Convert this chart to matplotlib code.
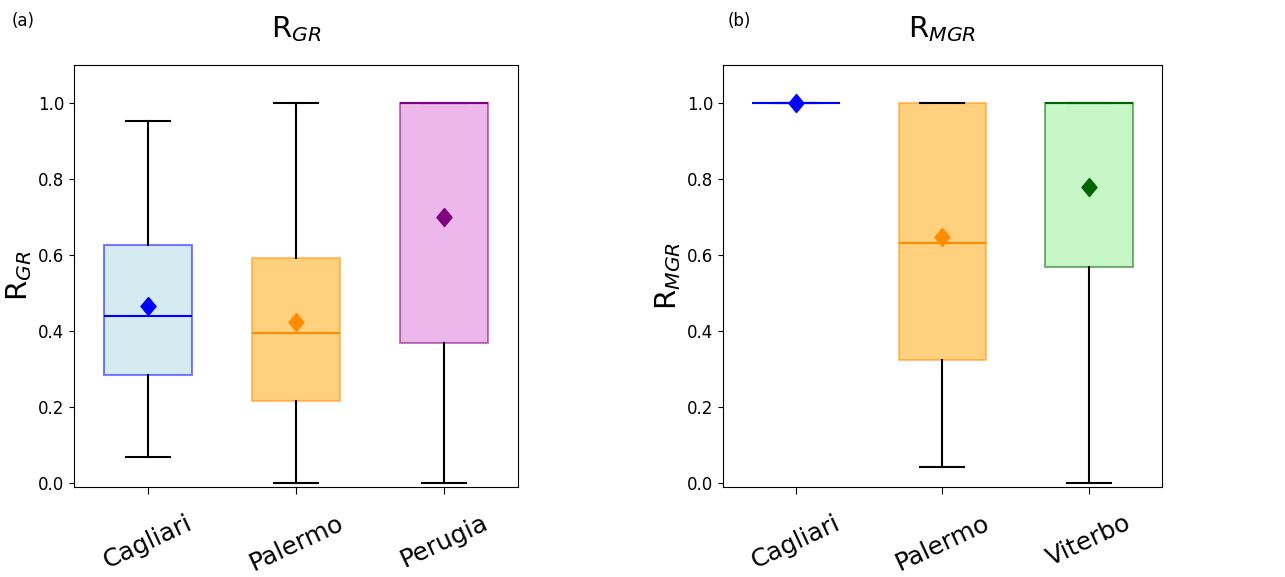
import matplotlib
matplotlib.use('Agg')
import matplotlib.pyplot as plt

# panel (a): R_GR
cities_a = ['Cagliari', 'Palermo', 'Perugia']
low_a = [0.07, 0.0, 0.0]
q1_a = [0.285, 0.215, 0.368]
med_a = [0.439, 0.396, 1.0]
q3_a = [0.626, 0.593, 1.0]
high_a = [0.953, 1.0, 1.0]
mean_a = [0.466, 0.425, 0.70]

# panel (b): R_MGR
cities_b = ['Cagliari', 'Palermo', 'Viterbo']
low_b = [1.0, 0.043, 0.0]
q1_b = [1.0, 0.324, 0.568]
med_b = [1.0, 0.633, 1.0]
q3_b = [1.0, 1.0, 1.0]
high_b = [1.0, 1.0, 1.0]
mean_b = [1.0, 0.647, 0.78]

face_a = ['lightblue', 'orange', 'orchid']
line_a = ['blue', 'darkorange', 'purple']
face_b = ['lightblue', 'orange', 'lightgreen']
line_b = ['blue', 'darkorange', 'darkgreen']

# slightly tall diamond, like in the source figure
diamond = [(0, 1.2), (1, 0), (0, -1.2), (-1, 0), (0, 1.2)]


def make_stats(labels, low, q1, med, q3, high, mean):
    out = []
    for i in range(len(labels)):
        out.append(dict(label=labels[i], whislo=low[i], q1=q1[i], med=med[i],
                        q3=q3[i], whishi=high[i], mean=mean[i], fliers=[]))
    return out


def draw_panel(ax, stats, faces, lines):
    bp = ax.bxp(stats, patch_artist=True, showmeans=True, widths=0.6,
                whiskerprops=dict(color='black', linewidth=1.5),
                capprops=dict(color='black', linewidth=1.5),
                medianprops=dict(linewidth=1.5))
    for i in range(len(stats)):
        box = bp['boxes'][i]
        box.set_facecolor(faces[i])
        box.set_edgecolor(lines[i])
        box.set_linewidth(1.5)
        box.set_alpha(0.5)
        bp['medians'][i].set_color(lines[i])
        m = bp['means'][i]
        m.set_marker(diamond)
        m.set_markerfacecolor(lines[i])
        m.set_markeredgecolor(lines[i])
        m.set_markersize(13)
    ax.set_ylim(-0.01, 1.1)
    ax.set_yticks([0.0, 0.2, 0.4, 0.6, 0.8, 1.0])
    ax.tick_params(axis='y', labelsize=12)
    ax.tick_params(axis='x', labelsize=18, length=5, pad=12)
    for lab in ax.get_xticklabels():
        lab.set_rotation(25)


fig = plt.figure(figsize=(12.85, 5.77), dpi=100)
ax1 = fig.add_axes([0.0576, 0.156, 0.3455, 0.731])
ax2 = fig.add_axes([0.5626, 0.156, 0.3416, 0.731])

draw_panel(ax1, make_stats(cities_a, low_a, q1_a, med_a, q3_a, high_a, mean_a), face_a, line_a)
draw_panel(ax2, make_stats(cities_b, low_b, q1_b, med_b, q3_b, high_b, mean_b), face_b, line_b)

ax1.set_title(r'R$_{GR}$', fontsize=21, pad=20)
ax2.set_title(r'R$_{MGR}$', fontsize=21, pad=20)
ax1.set_ylabel(r'R$_{GR}$', fontsize=21, labelpad=3)
ax2.set_ylabel(r'R$_{MGR}$', fontsize=21, labelpad=3)

fig.text(0.009, 0.955, '(a)', fontsize=12)
fig.text(0.566, 0.955, '(b)', fontsize=12)

fig.savefig('out.png', dpi=100)
